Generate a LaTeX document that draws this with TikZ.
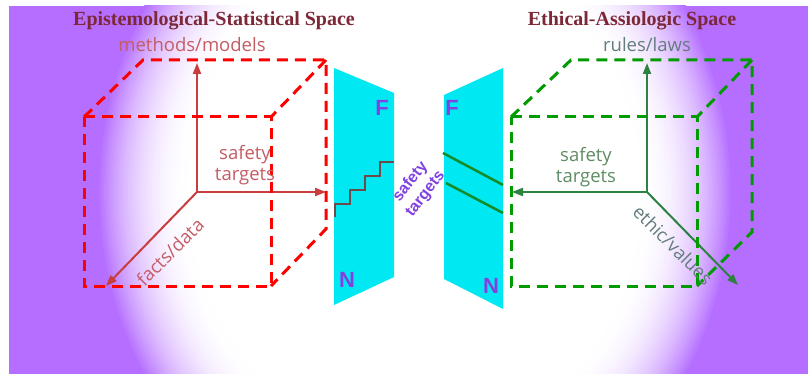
\documentclass[tikz,border=0pt]{standalone}
\usepackage{fontspec}
\setmainfont{Liberation Serif}
\newfontfamily\labfont{Open Sans}
\newfontfamily\letfont{Liberation Sans}
\usetikzlibrary{arrows.meta}
\definecolor{purp}{RGB}{181,110,255}
\definecolor{titlered}{RGB}{125,40,55}
\definecolor{cyanp}{RGB}{0,232,242}
\definecolor{letterp}{RGB}{130,66,225}
\definecolor{axred}{RGB}{200,62,62}
\definecolor{labred}{RGB}{196,92,100}
\definecolor{cubered}{RGB}{255,0,0}
\definecolor{cubegreen}{RGB}{0,155,0}
\definecolor{axgreen}{RGB}{45,130,65}
\definecolor{labgreen}{RGB}{95,140,100}
\definecolor{labgray}{RGB}{100,125,125}
\definecolor{stair}{RGB}{110,75,75}
\definecolor{pline}{RGB}{20,140,40}
\tikzset{
  cubeline/.style={line width=3pt, dash pattern=on 11pt off 7pt},
  axisarrow/.style={line width=2pt, -{Triangle[length=11pt,width=8pt]}},
  titletext/.style={font=\fontsize{20}{24}\selectfont\bfseries, text=titlered, inner sep=0pt},
  axislabel/.style={font=\labfont\fontsize{18.5}{21}\selectfont, inner sep=0pt},
  panel/.style={fill=cyanp, draw=none},
  panelletter/.style={font=\letfont\bfseries\fontsize{22}{22}\selectfont, text=letterp, inner sep=0pt},
}
\begin{document}
\begin{tikzpicture}[x=1pt,y=-1pt]
\useasboundingbox (0,0) rectangle (808,374);
\fill[white] (0,0) rectangle (808,374);
\fill[purp] (9,6) rectangle (808,374);
\begin{scope}
\clip (9,6) rectangle (808,374);
\foreach \i in {0,...,40} {
  \pgfmathsetmacro\f{1-0.3*\i/40}
  \pgfmathsetmacro\p{100*((40-\i)/40)^2.2}
  \fill[purp!\p!white] (415,192) ellipse [x radius={318*\f}, y radius={355*\f}];
}
\end{scope}

% titles
\node[titletext] (t1) at (214,21) {Epistemological-Statistical Space};
\node[titletext] (t2) at (632,21) {Ethical-Assiologic Space};

% panels
\fill[panel] (334,68) -- (394,93) -- (394,277) -- (334,305) -- cycle;
\fill[panel] (503,68) -- (444,95) -- (444,279) -- (503,309) -- cycle;
\draw[stair, line width=2pt] (335,217) -- (335,204) -- (350,204) -- (350,190) -- (365,190) -- (365,176) -- (380,176) -- (380,162) -- (394,162);
\draw[pline, line width=2.5pt] (443,153) -- (503,185);
\draw[pline, line width=2.5pt] (446,183) -- (503,213);
\node[panelletter] (fl) at (382,108) {F};
\node[panelletter] (nl) at (347,280) {N};
\node[panelletter] (fr) at (452,108) {F};
\node[panelletter] (nr) at (491,286) {N};
\node[font=\letfont\bfseries\fontsize{16}{19}\selectfont, text=letterp, align=center, rotate=52, inner sep=0pt] (st) at (418,188) {safety\\targets};

% left cube
\coordinate (lf1) at (84,117); \coordinate (lf2) at (271,117);
\coordinate (lf3) at (271,286); \coordinate (lf4) at (84,286);
\coordinate (lb1) at (143,60); \coordinate (lb2) at (326,60); \coordinate (lb3) at (326,229);
\coordinate (lo) at (197,192);
\coordinate (lup) at (197,63); \coordinate (lrt) at (326,192); \coordinate (ldg) at (106,286);
\draw[axred, axisarrow] (lo) -- (lup);
\draw[axred, axisarrow] (lo) -- (lrt);
\draw[axred, axisarrow] (lo) -- (ldg);
\draw[cubered, cubeline] (lf1) -- (lf2) -- (lf3) -- (lf4) -- cycle;
\draw[cubered, cubeline] (lf1) -- (lb1) -- (lb2) -- (lb3) -- (lf3);
\draw[cubered, cubeline] (lb2) -- (lf2);
\node[axislabel, text=labred] (mm) at (192,45) {methods/models};
\node[axislabel, text=labred, align=center] (ls) at (245,165) {safety\\targets};
\node[axislabel, text=labred, rotate=45] (fd) at (170,252) {facts/data};

% right cube
\coordinate (rf1) at (511,117); \coordinate (rf2) at (697,117);
\coordinate (rf3) at (697,286); \coordinate (rf4) at (511,286);
\coordinate (rb1) at (571,60); \coordinate (rb2) at (752,60); \coordinate (rb3) at (752,232);
\coordinate (ro) at (647,192);
\coordinate (rup) at (647,63); \coordinate (rlt) at (512,192); \coordinate (rdg) at (738,285);
\draw[axgreen, axisarrow] (ro) -- (rup);
\draw[axgreen, axisarrow] (ro) -- (rlt);
\draw[axgreen, axisarrow] (ro) -- (rdg);
\draw[cubegreen, cubeline] (rf1) -- (rf2) -- (rf3) -- (rf4) -- cycle;
\draw[cubegreen, cubeline] (rf1) -- (rb1) -- (rb2) -- (rb3) -- (rf3);
\draw[cubegreen, cubeline] (rb2) -- (rf2);
\node[axislabel, text=labgray] (rl) at (647,45) {rules/laws};
\node[axislabel, text=labgreen, align=center] (rs) at (586,167) {safety\\targets};
\node[axislabel, text=labgray, rotate=-45] (ev) at (673,245) {ethic/values};
\end{tikzpicture}
\end{document}
